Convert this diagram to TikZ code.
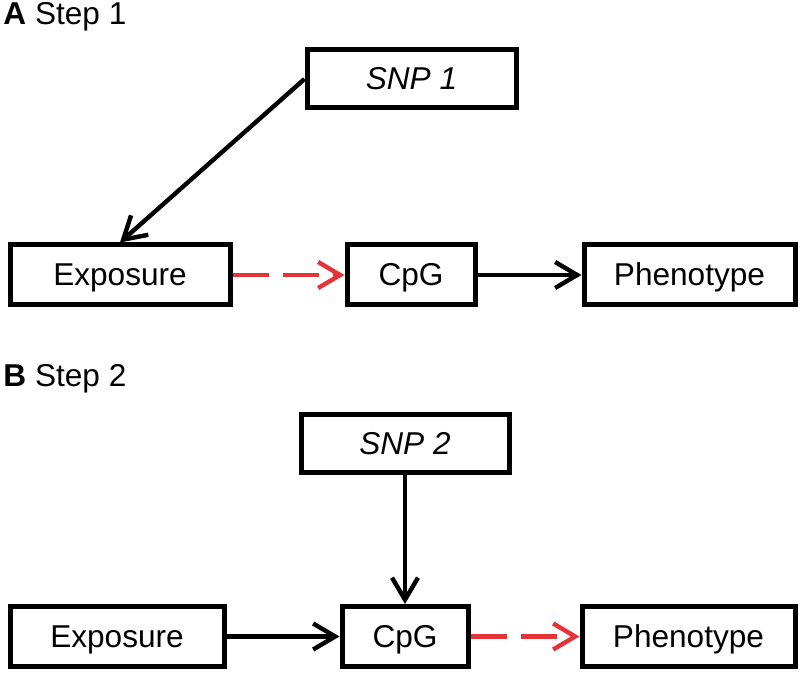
\documentclass[tikz,border=0pt]{standalone}
\usepackage{fontspec}
\setmainfont{Liberation Sans}
\usetikzlibrary{arrows.meta}
\definecolor{arrowred}{RGB}{228,52,56}

\begin{document}
\begin{tikzpicture}[x=0.5pt,y=-0.5pt,
		every node/.style={font=\fontsize{15.8}{18}\selectfont},
		box/.style={draw,line width=2.5pt,minimum height=30pt,inner sep=0pt,text depth=0pt,text height=10.5pt},
		link/.style={line width=2.2pt,-{Straight Barb[length=11pt,width=13pt]}},
		redlink/.style={link,color=arrowred,dash pattern=on 18pt off 7pt}]
			\useasboundingbox (0,0) rectangle (800,674);

			\node[anchor=base west,inner sep=0pt] (LA) at (3,25) {\textbf{A} Step 1};
			\node[box,minimum width=104.5pt,minimum height=29pt] (S1) at (411.5,79) {\textit{SNP 1}};
			\node[box,minimum width=110pt] (E1) at (120,275) {Exposure};
			\node[box,minimum width=64pt] (C1) at (411,275) {CpG};
			\node[box,minimum width=105.5pt] (P1) at (689.5,275) {Phenotype};

			\node[anchor=base west,inner sep=0pt] (LB) at (3,387) {\textbf{B} Step 2};
			\node[box,minimum width=104pt,minimum height=29pt] (S2) at (405,444) {\textit{SNP 2}};
			\node[box,minimum width=107pt] (E2) at (117,636.5) {Exposure};
			\node[box,minimum width=63pt] (C2) at (405,636.5) {CpG};
			\node[box,minimum width=106.5pt] (P2) at (688.5,636.5) {Phenotype};

			% step 1
			\draw[link] (S1.west) -- (E1.north);
			\draw[redlink] (E1) -- (C1);
			\draw[link] (C1) -- (P1);

			% step 2
			\draw[link] (S2.south) -- (C2.north);
			\draw[link] (E2) -- (C2);
			\draw[redlink] (C2) -- (P2);
		\end{tikzpicture}
\end{document}
